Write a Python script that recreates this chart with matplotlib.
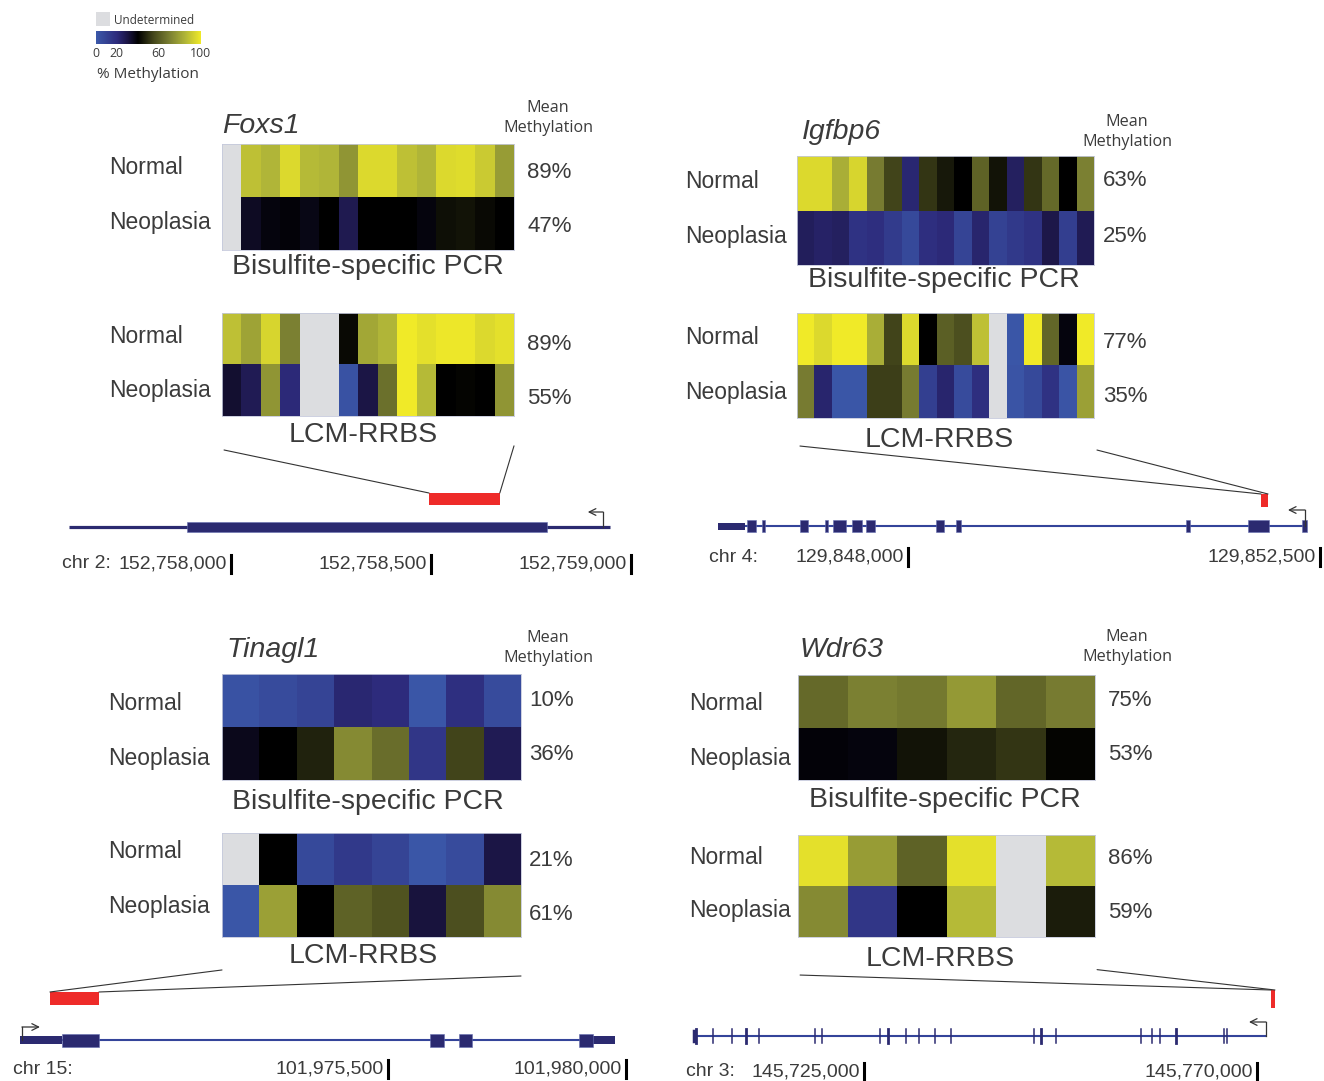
import numpy as np
import matplotlib
matplotlib.use('Agg')
import matplotlib.pyplot as plt
from matplotlib.colors import LinearSegmentedColormap
from matplotlib.patches import Rectangle, ConnectionPatch

nan = np.nan

# ------------------------------------------------------------------ data
row_labels = ['Normal', 'Neoplasia']
genes = ['Foxs1', 'Igfbp6', 'Tinagl1', 'Wdr63']
assays = ['Bisulfite-specific PCR', 'LCM-RRBS']

# % methylation per CpG (nan = undetermined)
foxs1_bsp_normal = [nan, 88, 85, 95, 86, 85, 76, 95, 95, 88, 85, 95, 96, 91, 78]
foxs1_bsp_neo = [nan, 35, 38, 39, 37, 40, 28, 40, 40, 40, 38, 43, 44, 42, 40]
foxs1_lcm_normal = [88, 80, 94, 70, nan, nan, 42, 81, 85, 100, 97, 99, 99, 95, 97]
foxs1_lcm_neo = [33, 27, 76, 21, nan, nan, 3, 30, 66, 100, 86, 40, 41, 40, 76]

igfbp6_bsp_normal = [95, 95, 83, 94, 69, 54, 22, 51, 45, 40, 62, 44, 25, 51, 64, 40, 70]
igfbp6_bsp_neo = [26, 24, 25, 17, 19, 13, 7, 19, 21, 9, 23, 10, 14, 17, 29, 12, 27]
igfbp6_lcm_normal = [100, 95, 100, 100, 83, 54, 95, 40, 61, 57, 88, nan, 1, 100, 63, 38, 100]
igfbp6_lcm_neo = [69, 23, 1, 1, 53, 53, 69, 11, 23, 6, 19, nan, 2, 7, 17, 2, 79]

tinagl1_bsp_normal = [3, 6, 9, 22, 20, 1, 18, 6]
tinagl1_bsp_neo = [36, 40, 47, 73, 65, 15, 54, 27]
tinagl1_lcm_normal = [nan, 40, 7, 14, 9, 1, 6, 30]
tinagl1_lcm_neo = [1, 79, 40, 62, 58, 31, 57, 73]

wdr63_bsp_normal = [64, 70, 68, 77, 63, 69]
wdr63_bsp_neo = [39, 38, 44, 48, 51, 41]
wdr63_lcm_normal = [97, 78, 62, 97, nan, 86]
wdr63_lcm_neo = [73, 15, 40, 86, nan, 46]

# mean methylation labels
foxs1_means = ['89%', '47%', '89%', '55%']
igfbp6_means = ['63%', '25%', '77%', '35%']
tinagl1_means = ['10%', '36%', '21%', '61%']
wdr63_means = ['75%', '53%', '86%', '59%']

# gene models (genomic coordinates)
foxs1_chrom = 'chr 2:'
foxs1_ticks = [152758000, 152758500, 152759000]
foxs1_span = [152757595, 152758947]
foxs1_utr = []
foxs1_exons = [[152757890, 152758790]]
foxs1_region = [152758495, 152758672]
foxs1_tss = [152758930, 152758892]

igfbp6_chrom = 'chr 4:'
igfbp6_ticks = [129848000, 129852500]
igfbp6_span = [129845925, 129852336]
igfbp6_utr = [[129845925, 129846220]]
igfbp6_exons = [[129846242, 129846340], [129846405, 129846438], [129846820, 129846908],
                [129847093, 129847126], [129847181, 129847323], [129847388, 129847498],
                [129847541, 129847640], [129848306, 129848393], [129848524, 129848579],
                [129851036, 129851080], [129851714, 129851943], [129852303, 129852358]]
igfbp6_region = [129851856, 129851932]
igfbp6_tss = [129852336, 129852150]

tinagl1_chrom = 'chr 15:'
tinagl1_ticks = [101975500, 101980000]
tinagl1_span = [101968541, 101979793]
tinagl1_utr = [[101968541, 101969335], [101979377, 101979793]]
tinagl1_exons = [[101969335, 101970035], [101976294, 101976559], [101976843, 101977088],
                 [101979112, 101979377]]
tinagl1_region = [101969108, 101970035]
tinagl1_tss = [101968579, 101968919]

wdr63_chrom = 'chr 3:'
wdr63_ticks = [145725000, 145770000]
wdr63_span = [145705535, 145771029]
wdr63_exon_marks = [145705730, 145707710, 145709840, 145711489, 145713012, 145719435,
                    145720237, 145726855, 145727805, 145729786, 145731252, 145733152,
                    145734996, 145744442, 145745301, 145746950, 145756739, 145757976,
                    145758915, 145760758, 145766243, 145766575]
wdr63_region = [145771602, 145772060]
wdr63_tss = [145771029, 145769083]

# ------------------------------------------------------------------ style
W, H = 1324, 1081
fig = plt.figure(figsize=(W / 100, H / 100), dpi=100)
fig.patch.set_facecolor('white')
plt.rcParams['font.family'] = ['Liberation Sans', 'DejaVu Sans']
TXT = '#3b3b3b'
NAVY = '#2b2a70'
LINEBLUE = '#34449a'
RED = '#ee2b29'
GRAY = '#dcdde0'
MYR = ['Open Sans', 'DejaVu Sans']

cmap = LinearSegmentedColormap.from_list('meth', [
    (0.0, '#3b58a9'), (0.2, '#2d2b7c'), (0.3, '#1b1544'), (0.4, '#000000'),
    (0.55, '#45481c'), (0.7, '#7a7f32'), (0.85, '#b0b538'), (1.0, '#f0ea28')])
cmap.set_bad(GRAY)


def ax_px(x0, y0, x1, y1):
    return fig.add_axes([x0 / W, 1 - y1 / H, (x1 - x0) / W, (y1 - y0) / H])


def T(x, y, s, size, ha='left', va='center', color=TXT, **kw):
    fig.text(x / W, 1 - y / H, s, fontsize=size, ha=ha, va=va, color=color, **kw)


def heat(rect, normal, neo):
    ax = ax_px(*rect)
    data = np.ma.masked_invalid(np.array([normal, neo], dtype=float))
    ax.set_facecolor(GRAY)
    ax.pcolormesh(data, cmap=cmap, vmin=0, vmax=100)
    ax.set_xlim(0, data.shape[1])
    ax.set_ylim(2, 0)
    ax.set_xticks([])
    ax.set_yticks([])
    for s in ax.spines.values():
        s.set_color('#c5c9dc')
        s.set_linewidth(0.6)
    return ax


# ------------------------------------------------------------------ legend
fig.add_artist(Rectangle((96 / W, 1 - 26 / H), 14 / W, 14 / H, transform=fig.transFigure,
                         facecolor=GRAY, edgecolor='none'))
T(114, 20, 'Undetermined', 8.5, family=MYR)
cax = ax_px(96, 31, 200, 44)
cax.imshow(np.linspace(0, 100, 256)[None, :], cmap=cmap, vmin=0, vmax=100,
           aspect='auto', extent=(0, 100, 0, 1))
cax.set_yticks([])
cax.set_xticks([0, 20, 60, 100])
cax.set_xticklabels(['0', '20', '60', '100'], fontsize=8.8, color=TXT, family=MYR)
cax.tick_params(axis='x', length=0, pad=2)
for s in cax.spines.values():
    s.set_visible(False)
T(97, 74, '% Methylation', 11, family=MYR)

# ------------------------------------------------------------------ panels
panels = [
    dict(name=genes[0], bsp=(foxs1_bsp_normal, foxs1_bsp_neo), lcm=(foxs1_lcm_normal, foxs1_lcm_neo),
         means=foxs1_means, chrom=foxs1_chrom, ticks=foxs1_ticks, span=foxs1_span, utr=foxs1_utr,
         exons=foxs1_exons, marks=None, region=foxs1_region, tss=foxs1_tss,
         name_xy=(222, 126), mean_xy=(548, 118), lab_x=109, rows=(168, 222, 336, 390),
         bsp_rect=(222, 144, 514, 250), lcm_rect=(222, 313, 514, 416), pct_x=527,
         pct_y=(172, 226, 344, 398), sub1=(368, 267), sub2=(363, 435),
         trk_rect=(0, 440, 662, 580), anchor=(152758000, 231, 0.4), line_y=527, lab_y=564,
         chr_x=62, line_lw=2.3, line_col=NAVY, exon_h=10, utr_h=7, arrow_h=15, region_h=12,
         conn=((0.007, -0.33), (1.0, -0.29)), region_top=493),
    dict(name=genes[1], bsp=(igfbp6_bsp_normal, igfbp6_bsp_neo), lcm=(igfbp6_lcm_normal, igfbp6_lcm_neo),
         means=igfbp6_means, chrom=igfbp6_chrom, ticks=igfbp6_ticks, span=igfbp6_span, utr=igfbp6_utr,
         exons=igfbp6_exons, marks=None, region=igfbp6_region, tss=igfbp6_tss,
         name_xy=(802, 132), mean_xy=(1127, 132), lab_x=685, rows=(181, 236, 338, 393),
         bsp_rect=(797, 156, 1094, 265), lcm_rect=(797, 313, 1094, 418), pct_x=1103,
         pct_y=(181, 236, 342, 396), sub1=(944, 280), sub2=(939, 440),
         trk_rect=(662, 440, 1324, 580), anchor=(129848000, 908, 0.09156), line_y=526, lab_y=557,
         chr_x=709, line_lw=1.5, line_col=LINEBLUE, exon_h=12, utr_h=7, arrow_h=16, region_h=13,
         conn=((0.01, -0.267), (1.01, -0.305)), region_top=494),
    dict(name=genes[2], bsp=(tinagl1_bsp_normal, tinagl1_bsp_neo), lcm=(tinagl1_lcm_normal, tinagl1_lcm_neo),
         means=tinagl1_means, chrom=tinagl1_chrom, ticks=tinagl1_ticks, span=tinagl1_span, utr=tinagl1_utr,
         exons=tinagl1_exons, marks=None, region=tinagl1_region, tss=tinagl1_tss,
         name_xy=(226, 650), mean_xy=(548, 648), lab_x=108, rows=(704, 758, 852, 906),
         bsp_rect=(222, 674, 521, 780), lcm_rect=(222, 833, 521, 937), pct_x=529,
         pct_y=(700, 754, 861, 915), sub1=(368, 802), sub2=(363, 956),
         trk_rect=(0, 960, 662, 1081), anchor=(101975500, 388, 0.05289), line_y=1040, lab_y=1069,
         chr_x=13, line_lw=1.5, line_col=LINEBLUE, exon_h=13, utr_h=8, arrow_h=13, region_h=13,
         conn=((0.0, -0.317), (1.0, -0.375)), region_top=992),
    dict(name=genes[3], bsp=(wdr63_bsp_normal, wdr63_bsp_neo), lcm=(wdr63_lcm_normal, wdr63_lcm_neo),
         means=wdr63_means, chrom=wdr63_chrom, ticks=wdr63_ticks, span=wdr63_span, utr=[],
         exons=[], marks=wdr63_exon_marks, region=wdr63_region, tss=wdr63_tss,
         name_xy=(800, 650), mean_xy=(1127, 647), lab_x=689, rows=(704, 758, 857, 911),
         bsp_rect=(798, 675, 1095, 780), lcm_rect=(798, 835, 1095, 937), pct_x=1108,
         pct_y=(700, 755, 858, 912), sub1=(945, 800), sub2=(940, 959),
         trk_rect=(662, 960, 1324, 1081), anchor=(145725000, 864, 0.008733), line_y=1036, lab_y=1072,
         chr_x=686, line_lw=1.5, line_col=LINEBLUE, exon_h=14, utr_h=8, arrow_h=14, region_h=18,
         conn=((0.007, -0.373), (1.007, -0.32)), region_top=990),
]

for p in panels:
    T(*p['name_xy'], p['name'], 20.5, style='italic')
    T(*p['mean_xy'], 'Mean\nMethylation', 11.6, ha='center', linespacing=1.3, family=MYR)
    for i in range(4):
        T(p['lab_x'], p['rows'][i], row_labels[i % 2], 16.5)
        T(p['pct_x'], p['pct_y'][i], p['means'][i], 16)
    heat(p['bsp_rect'], *p['bsp'])
    lcm_ax = heat(p['lcm_rect'], *p['lcm'])
    T(*p['sub1'], assays[0], 20.5, ha='center')
    T(*p['sub2'], assays[1], 20.5, ha='center')

    # gene track
    x0, y0, x1, y1 = p['trk_rect']
    g0, apx, s = p['anchor']
    tax = ax_px(x0, y0, x1, y1)
    tax.set_xlim(g0 + (x0 - apx) / s, g0 + (x1 - apx) / s)
    tax.set_ylim(y1, y0)
    tax.axis('off')
    ly = p['line_y']
    tax.plot(p['span'], [ly, ly], color=p['line_col'], lw=p['line_lw'], solid_capstyle='butt', zorder=2)
    for a, b in p['utr']:
        tax.add_patch(Rectangle((a, ly - p['utr_h'] / 2), b - a, p['utr_h'], facecolor=NAVY,
                                edgecolor='none', zorder=3))
    for a, b in p['exons']:
        tax.add_patch(Rectangle((a, ly - p['exon_h'] / 2), b - a, p['exon_h'], facecolor=NAVY,
                                edgecolor='#6670b0', lw=0.4, zorder=3))
    if p['marks'] is not None:
        for k, m in enumerate(p['marks']):
            lw = 2.0 if k in (0, 3, 8, 14, 19) else 1.1
            tax.plot([m, m], [ly - p['exon_h'] / 2, ly + p['exon_h'] / 2], color=NAVY, lw=lw, zorder=3)
        tax.plot([p['span'][0]] * 2, [ly - 5, ly + 5], color=NAVY, lw=2.5, zorder=3)
    ra, rb = p['region']
    rt = p['region_top']
    tax.add_patch(Rectangle((ra, rt), rb - ra, p['region_h'], facecolor=RED, edgecolor='none', zorder=3))
    # transcription start arrow
    ts, te = p['tss']
    ah = ly - p['arrow_h']
    tax.plot([ts, ts], [ly, ah], color='#333333', lw=0.9, zorder=4)
    tax.annotate('', xy=(te, ah), xytext=(ts, ah),
                 arrowprops=dict(arrowstyle='->', color='#333333', lw=0.9,
                                 shrinkA=0, shrinkB=0, mutation_scale=12))
    # coordinate labels
    T(p['chr_x'], p['lab_y'], p['chrom'], 14)
    for t in p['ticks']:
        tax.plot([t, t], [p['lab_y'] - 9, p['lab_y'] + 9], color='black', lw=2.2)
        tax.annotate(f'{t:,}', xy=(t, p['lab_y']), xytext=(-3, 0), textcoords='offset points',
                     ha='right', va='center', fontsize=14, color=TXT)
    # zoom lines from heatmap to region
    (fa, fb) = p['conn']
    for fxy, gx in ((fa, ra), (fb, rb)):
        cp = ConnectionPatch(xyA=fxy, coordsA=lcm_ax.transAxes, xyB=(gx, rt), coordsB=tax.transData,
                             color='#333333', lw=0.8)
        fig.add_artist(cp)

fig.savefig('out.png', dpi=100, facecolor='white')
